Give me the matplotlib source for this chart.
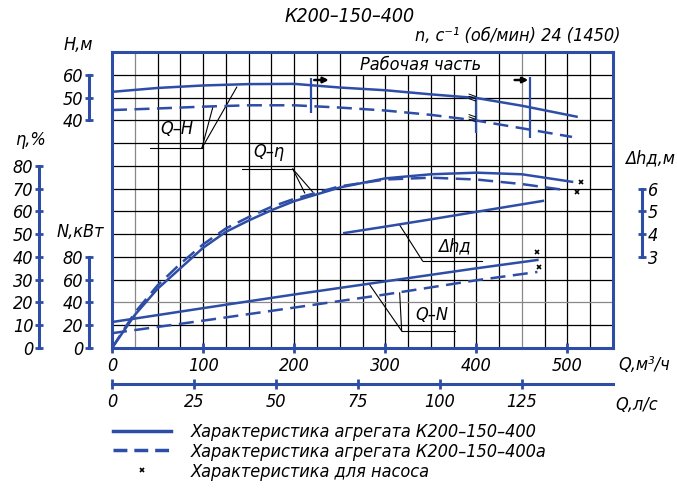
import numpy as np
import matplotlib.pyplot as plt
from matplotlib.lines import Line2D

plt.rcParams['font.family'] = ['DejaVu Sans']
plt.rcParams['font.style'] = 'italic'
plt.rcParams['font.stretch'] = 'condensed'
plt.rcParams['font.size'] = 13

BLUE = '#2d4da6'

# Q-H, m
q_head = [0, 50, 100, 150, 200, 250, 300, 350, 400, 450, 510]
head_full = [52.5, 54.2, 55.3, 55.9, 56.0, 54.4, 53.2, 51.4, 49.8, 46.4, 41.6]
q_head_a = [0, 50, 100, 150, 200, 250, 300, 350, 400, 450, 505]
head_cut = [44.5, 45.2, 46.0, 46.6, 46.6, 45.6, 44.3, 42.4, 39.9, 36.5, 32.7]

# Q-eta, %
q_eff = [0, 25, 50, 75, 100, 125, 150, 175, 200, 250, 300, 350, 400, 450, 505]
eff_full = [0, 14.5, 26, 35, 44, 51, 56, 60.5, 64.5, 70.5, 74.5, 76.3, 77, 76.3, 73]
q_eff_a = [0, 25, 50, 75, 100, 125, 150, 175, 200, 250, 300, 350, 400, 450, 495]
eff_cut = [0, 15.5, 27.5, 37, 45.5, 52.5, 57.5, 62, 65.5, 71, 74, 74.8, 74, 72, 69.5]

# Q-N, kW
q_power = [0, 100, 200, 300, 400, 467]
power_full = [22.8, 35, 47, 58.5, 70, 77.3]
power_cut = [13, 24, 35.5, 47, 59.5, 66.8]

# Q-dh, m
q_npsh = [255, 300, 350, 400, 473]
npsh = [4.05, 4.33, 4.65, 4.98, 5.46]

# pump-only points
q_pump_eff = [515, 511]
pump_eff = [72.9, 68.5]
q_pump_pow = [467, 469]
pump_pow = [84, 71]

W, HP = 677, 492
fig = plt.figure(figsize=(W / 100, HP / 100), dpi=100)


def fx(px):
    return px / W


def fy(py):
    return 1 - py / HP


left, right, top, bottom = 112, 613, 52, 348
ax = fig.add_axes([fx(left), fy(bottom), (right - left) / W, (bottom - top) / HP])
ax.set_xlim(0, 550)
ax.set_ylim(0, 13)

# grid: lines under "Рабочая часть" stop one row lower
for q in range(25, 550, 25):
    ytop = 12 if 275 <= q <= 400 else 13
    col = '#888888' if q in (25, 450) else 'black'
    ax.vlines(q, 0, ytop, color=col, lw=0.9, zorder=1)
for g in range(1, 13):
    col = '#888888' if g == 2 else 'black'
    ax.hlines(g, 0, 550, color=col, lw=0.9, zorder=1)

for s in ax.spines.values():
    s.set_color(BLUE)
    s.set_linewidth(2.2)
ax.set_yticks([])
ax.set_xticks(range(0, 501, 100))
ax.tick_params(axis='x', direction='inout', length=7, width=2, color=BLUE, pad=3)

sec = ax.secondary_xaxis(-(384 - bottom) / (bottom - top),
                         functions=(lambda q: q / 3.6, lambda l: l * 3.6))
sec.set_xticks([0, 25, 50, 75, 100, 125])
for s in sec.spines.values():
    s.set_color(BLUE)
    s.set_linewidth(2.2)
sec.tick_params(direction='inout', length=7, width=2, color=BLUE, pad=3)


def scale_axis(side, offset, lim, bounds, ticks):
    a = ax.twinx()
    a.set_ylim(*lim)
    for s in a.spines.values():
        s.set_visible(False)
    sp = a.spines[side]
    sp.set_visible(True)
    sp.set_position(('outward', offset))
    sp.set_bounds(*bounds)
    sp.set_color(BLUE)
    sp.set_linewidth(2.2)
    a.yaxis.set_ticks_position(side)
    a.set_yticks(ticks)
    a.tick_params(axis='y', direction='inout', length=6, width=2, color=BLUE, pad=1)
    return a


ax_h = scale_axis('left', 16.6, (-60, 70), (40, 60), [40, 50, 60])
ax_eff = scale_axis('left', 52.6, (0, 130), (0, 80), range(0, 81, 10))
ax_n = scale_axis('left', 16.6, (0, 260), (0, 80), range(0, 81, 20))
ax_dh = scale_axis('right', 20.9, (-1, 12), (3, 6), [3, 4, 5, 6])

lw = 1.8
dash = (0, (6, 3))
ax_h.plot(q_head, head_full, color=BLUE, lw=lw)
ax_h.plot(q_head_a, head_cut, color=BLUE, lw=lw, ls=dash)
ax_eff.plot(q_eff, eff_full, color=BLUE, lw=lw)
ax_eff.plot(q_eff_a, eff_cut, color=BLUE, lw=lw, ls=dash)
ax_n.plot(q_power, power_full, color=BLUE, lw=lw)
ax_n.plot(q_power, power_cut, color=BLUE, lw=lw, ls=dash)
ax_dh.plot(q_npsh, npsh, color=BLUE, lw=lw)
ax_eff.plot(q_pump_eff, pump_eff, 'x', color='black', ms=3, mew=1.2)
ax_n.plot(q_pump_pow, pump_pow, 'x', color='black', ms=3, mew=1.2)

# working range
ax_h.vlines([219], 43.2, 58.6, color=BLUE, lw=1.6)
ax_h.vlines([400], 34.4, 49.8, color=BLUE, lw=1.6)
ax_h.vlines([459], 32.2, 59.0, color=BLUE, lw=1.6)
for y0 in (48.5, 39.5):
    for k in range(3):
        ax_h.plot([392, 399], [y0 + k * 1.0 + 1.0, y0 + k * 1.0], color='black', lw=0.7)
for xa in ((222, 238), (442, 457)):
    ax_h.annotate('', xy=(xa[1], 57.7), xytext=(xa[0], 57.7),
                  arrowprops=dict(arrowstyle='-|>', color='black', lw=1.8,
                                  mutation_scale=8, shrinkA=0, shrinkB=0))
ax.text(339, 12.45, 'Рабочая часть', ha='center', va='center', fontsize=13)

# leaders
leader = dict(color='black', lw=0.8)
ax.plot([41.7, 98.7], [8.78, 8.78], **leader)
ax.plot([98.7, 137], [8.78, 11.46], **leader)
ax.plot([98.7, 110.7], [8.78, 10.58], **leader)
ax.text(71, 9.6, 'Q–H', ha='center', va='center', fontsize=13)

ax.plot([142.5, 198.5], [7.86, 7.86], **leader)
ax.plot([198.5, 211.6], [7.86, 6.81], **leader)
ax.plot([198.5, 220.4], [7.86, 6.85], **leader)
ax.text(172, 8.6, 'Q–η', ha='center', va='center', fontsize=13)

ax.plot([341, 405.7], [3.82, 3.82], **leader)
ax.plot([341, 315.8], [3.82, 5.40], **leader)
ax.text(376, 4.45, 'Δhд', ha='center', va='center', fontsize=13)

ax.plot([318, 376], [0.75, 0.75], **leader)
ax.plot([318, 283], [0.75, 2.77], **leader)
ax.plot([318, 315.8], [0.75, 2.42], **leader)
ax.text(351, 1.45, 'Q–N', ha='center', va='center', fontsize=13)

# titles and scale names
fig.text(fx(350), fy(17), 'К200–150–400', ha='center', va='center', fontsize=14)
fig.text(fx(415), fy(36), 'n, с⁻¹ (об/мин) 24 (1450)', ha='left', va='center', fontsize=13)
fig.text(fx(78), fy(45), 'Н,м', ha='center', va='center', fontsize=13)
fig.text(fx(30), fy(140), 'η,%', ha='center', va='center', fontsize=13)
fig.text(fx(80), fy(232), 'N,кВт', ha='center', va='center', fontsize=13)
fig.text(fx(650), fy(158), 'Δhд,м', ha='center', va='center', fontsize=13)
fig.text(fx(618), fy(365), 'Q,м³/ч', ha='left', va='center', fontsize=13)
fig.text(fx(615), fy(405), 'Q,л/с', ha='left', va='center', fontsize=13)

handles = [Line2D([], [], color=BLUE, lw=2.5),
           Line2D([], [], color=BLUE, lw=2.5, ls=(0, (4, 2))),
           Line2D([], [], color='black', marker='x', ms=3, mew=1.2, ls='none')]
labels = ['Характеристика агрегата К200–150–400',
          'Характеристика агрегата К200–150–400а',
          'Характеристика для насоса']
fig.legend(handles, labels, loc='upper left', bbox_to_anchor=(fx(113), fy(423)),
           frameon=False, fontsize=13, handlelength=3.2, handletextpad=1.1,
           labelspacing=0.1, borderpad=0, borderaxespad=0)

fig.savefig('out.png', dpi=100)
